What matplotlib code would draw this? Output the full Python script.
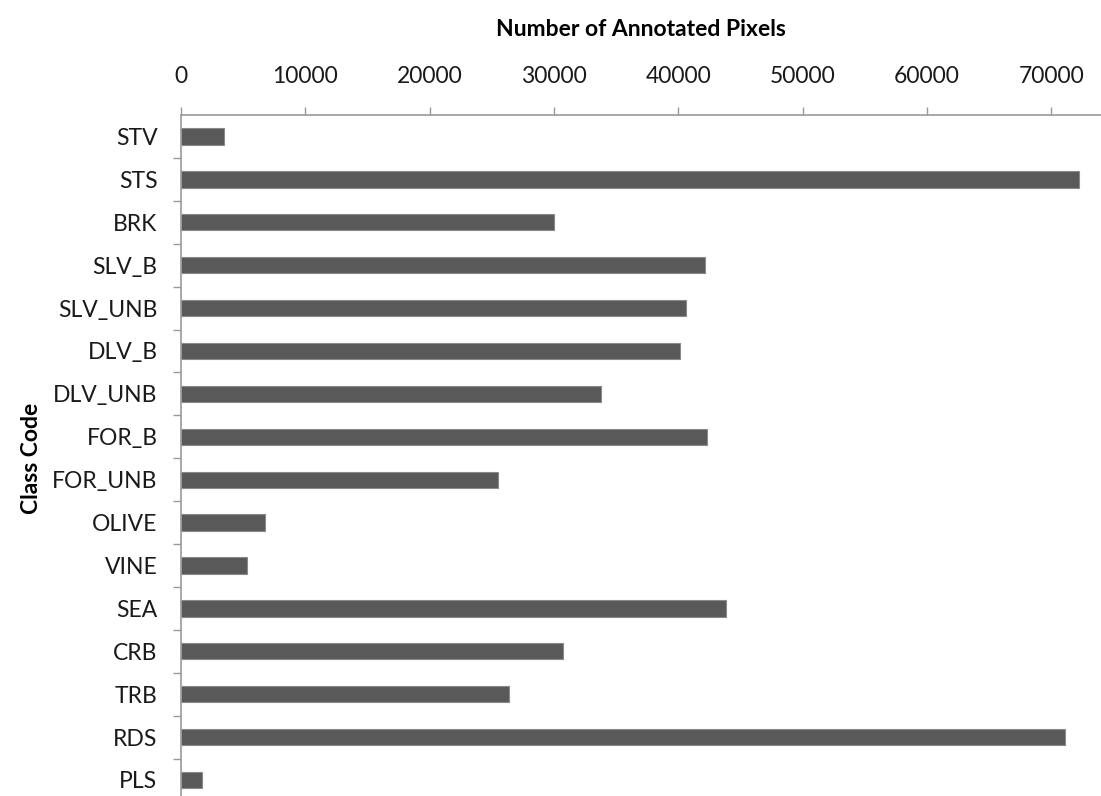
import matplotlib
matplotlib.use("Agg")
import matplotlib.pyplot as plt
from matplotlib.ticker import FixedLocator

# class codes, top to bottom as in the chart
classes = ["STV", "STS", "BRK", "SLV_B", "SLV_UNB", "DLV_B", "DLV_UNB", "FOR_B",
           "FOR_UNB", "OLIVE", "VINE", "SEA", "CRB", "TRB", "RDS", "PLS"]
pixels = [3460, 72240, 30010, 42160, 40630, 40140, 33790, 42320,
          25500, 6760, 5310, 43850, 30730, 26390, 71120, 1690]
x_ticks = [0, 10000, 20000, 30000, 40000, 50000, 60000, 70000]

plt.rcParams['font.family'] = ['Lato', 'DejaVu Sans']

fig = plt.figure(figsize=(11.01, 7.96), dpi=100)
ax = fig.add_axes([0.1644, -0.0068, 0.8356, 0.8623])

pos = list(range(len(classes)))
ax.barh(pos, pixels, height=0.38, color='#595959', edgecolor='#8a8a8a', linewidth=0.8)

ax.set_xlim(0, 74000)
ax.set_ylim(len(classes) - 0.5, -0.5)

# x axis on top
ax.xaxis.tick_top()
ax.xaxis.set_label_position('top')
ax.set_xticks(x_ticks)
ax.set_xticklabels([str(t) for t in x_ticks], fontsize=16.5, color='#1a1a1a')
ax.tick_params(axis='x', direction='out', length=6, width=1, color='#9a9a9a', pad=14)
ax.set_xlabel('Number of Annotated Pixels', fontsize=16.5, fontweight='bold', labelpad=22)

# y axis: labels at centres, ticks between categories
ax.set_yticks(pos)
ax.set_yticklabels(classes, fontsize=16.5, color='#1a1a1a')
ax.yaxis.set_minor_locator(FixedLocator([p + 0.5 for p in pos[:-1]]))
ax.tick_params(axis='y', which='major', length=0, pad=17)
ax.tick_params(axis='y', which='minor', direction='out', length=6, width=1, color='#9a9a9a')
ax.set_ylabel('Class Code', fontsize=16.5, fontweight='bold', labelpad=7)

for s in ['right', 'bottom']:
    ax.spines[s].set_visible(False)
for s in ['top', 'left']:
    ax.spines[s].set_color('#9a9a9a')
    ax.spines[s].set_linewidth(1.2)

fig.savefig('out.png', dpi=100)
